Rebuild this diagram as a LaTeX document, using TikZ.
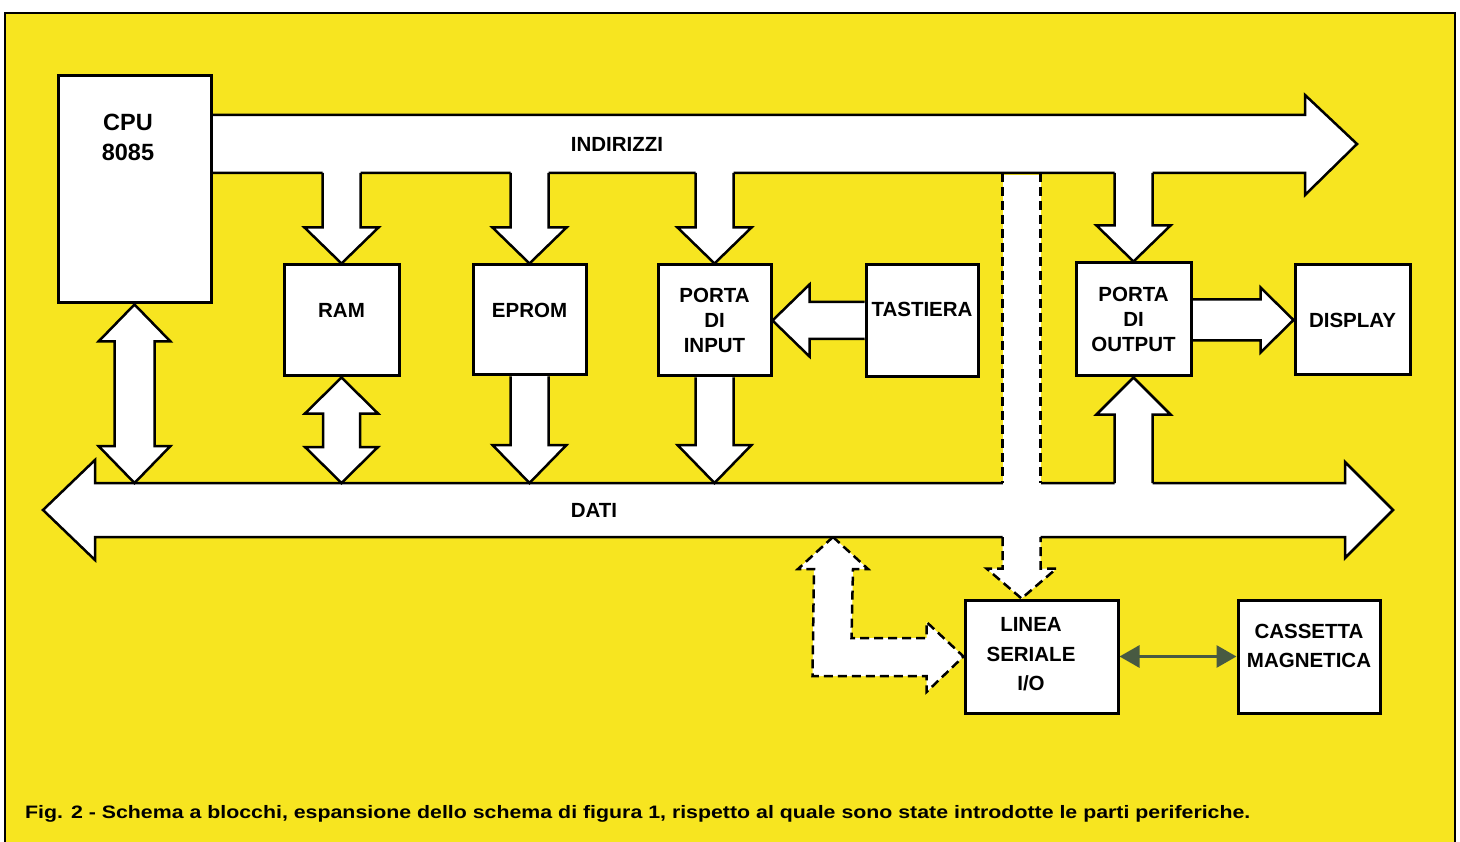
\documentclass[tikz,border=0pt]{standalone}
\usepackage{fontspec}
\setmainfont{Liberation Sans}
\usepackage{tikz}
\usetikzlibrary{positioning,calc,arrows.meta}

\definecolor{paper}{RGB}{247,229,32}
\definecolor{linkgreen}{RGB}{72,90,66}

\pgfdeclarelayer{back}
\pgfdeclarelayer{front}
\pgfsetlayers{back,main,front}

% half shaft, half head, head length of the hollow arrows
\newcommand{\fatS}{19}
\newcommand{\fatH}{37}
\newcommand{\fatL}{36}

% vertical hollow arrow: [style]{tip}{tail}{+1 down / -1 up}
\newcommand{\fatv}[4][]{%
  \fill[white] ($(#3 -| #2)+(-\fatS,-2*#4)$) -- ($(#2)+(-\fatS,-\fatL*#4)$) -- ($(#2)+(-\fatH,-\fatL*#4)$) -- (#2)
    -- ($(#2)+(\fatH,-\fatL*#4)$) -- ($(#2)+(\fatS,-\fatL*#4)$) -- ($(#3 -| #2)+(\fatS,-2*#4)$) -- cycle;
  \draw[fatline,#1] ($(#3 -| #2)+(-\fatS,0)$) -- ($(#2)+(-\fatS,-\fatL*#4)$) -- ($(#2)+(-\fatH,-\fatL*#4)$) -- (#2)
    -- ($(#2)+(\fatH,-\fatL*#4)$) -- ($(#2)+(\fatS,-\fatL*#4)$) -- ($(#3 -| #2)+(\fatS,0)$);
}
% horizontal hollow arrow: [style]{tip}{tail}{+1 right / -1 left}
\newcommand{\fath}[4][]{%
  \fill[white] ($(#3 |- #2)+(-2*#4,-\fatS)$) -- ($(#2)+(-\fatL*#4,-\fatS)$) -- ($(#2)+(-\fatL*#4,-\fatH)$) -- (#2)
    -- ($(#2)+(-\fatL*#4,\fatH)$) -- ($(#2)+(-\fatL*#4,\fatS)$) -- ($(#3 |- #2)+(-2*#4,\fatS)$) -- cycle;
  \draw[fatline,#1] ($(#3 |- #2)+(0,-\fatS)$) -- ($(#2)+(-\fatL*#4,-\fatS)$) -- ($(#2)+(-\fatL*#4,-\fatH)$) -- (#2)
    -- ($(#2)+(-\fatL*#4,\fatH)$) -- ($(#2)+(-\fatL*#4,\fatS)$) -- ($(#3 |- #2)+(0,\fatS)$);
}
% vertical hollow double arrow: [style]{top tip}{bottom tip}
\newcommand{\fatvv}[3][]{%
  \filldraw[fatline,fill=white,#1] (#2) -- ($(#2)+(\fatH,\fatL)$) -- ($(#2)+(\fatS,\fatL)$) -- ($(#3)+(\fatS,-\fatL)$)
    -- ($(#3)+(\fatH,-\fatL)$) -- (#3) -- ($(#3)+(-\fatH,-\fatL)$) -- ($(#3)+(-\fatS,-\fatL)$)
    -- ($(#2)+(-\fatS,\fatL)$) -- ($(#2)+(-\fatH,\fatL)$) -- cycle;
}

\begin{document}
\begin{tikzpicture}[
    x=1pt, y=-1pt,
    box/.style={rectangle, draw, line width=3pt, fill=white, inner sep=0pt, align=center,
                font=\bfseries\fontsize{20.5}{25}\selectfont},
    lbl/.style={inner sep=0pt, align=center, font=\bfseries\fontsize{20.5}{25}\selectfont},
    widelbl/.style={lbl, font=\bfseries\fontsize{20.5}{29.5}\selectfont},
    fatline/.style={line width=2.5pt, line join=miter},
    dashline/.style={fatline, dash pattern=on 9pt off 5pt},
    frame/.style={line width=2.5pt},
    link/.style={{Triangle[length=20pt,width=22pt]}-{Triangle[length=20pt,width=22pt]}, line width=3pt, linkgreen},
]
\useasboundingbox (0,0) rectangle (1460,842);

% blocks
\begin{pgfonlayer}{front}
\node[box, minimum width=153pt, minimum height=227pt] (cpu) at (134.5,189.5) {};
\node[box, minimum width=115pt, minimum height=111pt] (ram) at (341.5,320.5) {};
\node[box, minimum width=113pt, minimum height=110pt] (eprom) at (529.5,320) {};
\node[box, minimum width=113pt, minimum height=111pt] (pin) at (714.5,320.5) {PORTA\\DI\\INPUT};
\node[box, minimum width=112pt, minimum height=112pt] (tast) at (922,321) {};
\node[box, minimum width=115pt, minimum height=113pt] (pout) at (1133.5,319.5) {PORTA\\DI\\OUTPUT};
\node[box, minimum width=115pt, minimum height=110pt] (disp) at (1352.5,320) {DISPLAY};
\node[box, minimum width=153pt, minimum height=113pt] (linea) at (1041.5,656.5) {};
\node[box, minimum width=142pt, minimum height=113pt] (cass) at (1309,656.5) {};

\node[widelbl, font=\bfseries\fontsize{23.5}{30}\selectfont] (cputxt) at (128,137) {CPU\\8085};
\node[lbl] (ramtxt) at (341.5,310) {RAM};
\node[lbl] (epromtxt) at (529.5,310) {EPROM};
\node[lbl] (tasttxt) at (922,309) {TASTIERA};
\node[widelbl] (lineatxt) at (1031,654.5) {LINEA\\SERIALE\\I/O};
\node[widelbl] (casstxt) at (1309,646) {CASSETTA\\MAGNETICA};
\node[lbl] (addrtxt) at (617,144) {INDIRIZZI};
\node[lbl] (datatxt) at (594,510) {DATI};

\node[anchor=base west, inner sep=0pt, font=\bfseries\fontsize{18}{20}\selectfont] (caption) at (25,818)
    {\scalebox{1.185}[1]{Fig. 2 - Schema a blocchi, espansione dello schema di figura 1, rispetto al quale sono state introdotte le parti periferiche.}};
\end{pgfonlayer}

% paper and the two buses
\begin{pgfonlayer}{back}
\fill[white] (0,0) rectangle (1460,842);
\fill[paper] (5,13) rectangle (1455,842);
\draw[frame] (5,842) -- (5,13) -- (1455,13) -- (1455,842);
\filldraw[fatline, fill=white] (205,115) -- (1305,115) -- (1305,95) -- (1357,144) -- (1305,195) -- (1305,173) -- (205,173) -- cycle;
\filldraw[fatline, fill=white] (43,510) -- (95,460) -- (95,483) -- (1345,483) -- (1345,462) -- (1393,510)
    -- (1345,558) -- (1345,537) -- (95,537) -- (95,560) -- cycle;
\end{pgfonlayer}

\coordinate (addrlow) at (0,173);
\coordinate (datatop) at (0,483);
\coordinate (databot) at (0,537);
\coordinate (cpu-d) at (datatop -| cpu.south);
\coordinate (ram-d) at (datatop -| ram.south);
\coordinate (eprom-d) at (datatop -| eprom.south);
\coordinate (pin-d) at (datatop -| pin.south);
\coordinate (ser-tip) at ($(linea.north)+(-20,0)$);
\coordinate (lio) at (databot -| 833,0);

% address bus to the blocks
\fatv{ram.north}{addrlow}{1}
\fatv{eprom.north}{addrlow}{1}
\fatv{pin.north}{addrlow}{1}
\fatv{pout.north}{addrlow}{1}

% blocks to and from the data bus
\renewcommand{\fatL}{38}
\fatv{eprom-d}{eprom.south}{1}
\fatv{pin-d}{pin.south}{1}
\renewcommand{\fatL}{37}
\fatv{pout.south}{datatop}{-1}

\renewcommand{\fatS}{20}\renewcommand{\fatH}{36}
\fatvv{cpu.south}{cpu-d}
\renewcommand{\fatS}{18.5}\renewcommand{\fatH}{36.5}\renewcommand{\fatL}{36}
\fatvv{ram.south}{ram-d}

% keyboard and display
\renewcommand{\fatS}{18.5}\renewcommand{\fatH}{36}\renewcommand{\fatL}{37}
\fath{pin.east}{tast.west}{-1}
\renewcommand{\fatS}{20.5}\renewcommand{\fatH}{32.5}\renewcommand{\fatL}{33}
\fath{disp.west}{pout.east}{1}

% serial line (dashed)
\fill[white] ($(addrlow -| ser-tip)+(-19,2.5)$) rectangle ($(datatop -| ser-tip)+(19,2)$);
\draw[dashline] ($(addrlow -| ser-tip)+(-19,0)$) -- ($(datatop -| ser-tip)+(-19,0)$);
\draw[dashline] ($(addrlow -| ser-tip)+(19,0)$) -- ($(datatop -| ser-tip)+(19,0)$);
\renewcommand{\fatS}{19}\renewcommand{\fatH}{35}\renewcommand{\fatL}{30}
\fatv[dashline]{ser-tip}{databot}{1}

\filldraw[dashline, fill=white] (lio) -- ($(lio)+(35,32)$) -- ($(lio)+(20,32)$) -- ($(linea.west)+(-112,-18.5)$)
    -- ($(linea.west)+(-37,-18.5)$) -- ($(linea.west)+(-37,-34.5)$) -- (linea.west) -- ($(linea.west)+(-37,35.5)$)
    -- ($(linea.west)+(-37,19.5)$) -- ($(linea.west)+(-151,19.5)$) -- ($(lio)+(-19,32)$) -- ($(lio)+(-35,32)$) -- cycle;

\draw[link] (linea.east) -- (cass.west);
\end{tikzpicture}
\end{document}
